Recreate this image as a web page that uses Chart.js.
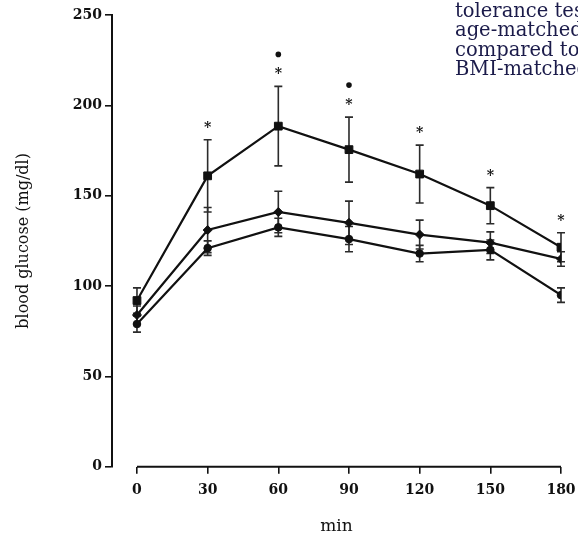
<!DOCTYPE html>
<html>
<head>
<meta charset="utf-8">
<script src="https://cdn.jsdelivr.net/npm/chart.js@4.4.1/dist/chart.umd.min.js"></script>
<style>
  html, body { margin: 0; padding: 0; background: #fff; overflow: hidden; }
  #wrap { position: relative; width: 578px; height: 537px; overflow: hidden; }
  #caption {
    position: absolute; left: 455px; top: 1px;
    font: 19.5px 'DejaVu Serif', serif; line-height: 19.3px;
    color: #1b1b4a; white-space: nowrap;
  }
</style>
</head>
<body>
<div id="wrap">
  <canvas id="ogtt" width="578" height="537"></canvas>
  <div id="caption">tolerance test<br>age-matched<br>compared to<br>BMI-matched</div>
</div>
<script>
// sampling times of the glucose tolerance test (min)
const minutes = [0, 30, 60, 90, 120, 150, 180];

// mean blood glucose (mg/dl) and SE per group
const groupA = [92, 161, 188.5, 175.5, 162, 144.5, 121.5];
const groupAErr = [7, 20, 22, 18, 16, 10, 8];
const groupB = [84, 131, 141, 135, 128.5, 124, 115];
const groupBErr = [5, 12.5, 11.5, 12, 8, 6, 4];
const groupC = [79, 121, 132.5, 126, 118, 120, 95];
const groupCErr = [4.5, 4, 5, 7, 4.5, 5.5, 4];

// significance marks above group A
const starMarks = [false, true, true, true, true, true, true];
const dotMarks = [false, false, true, true, false, false, false];

const yTicks = [0, 50, 100, 150, 200, 250];

const INK = '#111';
const SERIF = "'DejaVu Serif', serif";

const pts = vals => minutes.map((m, i) => ({ x: m, y: vals[i] }));

function series(vals, err, style, radius) {
    return {
        data: pts(vals),
        err: err,
        borderColor: INK,
        backgroundColor: INK,
        borderWidth: 2.2,
        tension: 0,
        pointStyle: style,
        pointRadius: radius,
        pointBorderWidth: 1,
        pointBackgroundColor: INK,
        pointBorderColor: INK
    };
}

const errorBars = {
    id: 'errorBars',
    beforeDatasetsDraw(chart) {
        const { ctx, scales: { x, y } } = chart;
        ctx.save();
        ctx.strokeStyle = '#2b2b2b';
        ctx.lineWidth = 1.6;
        chart.data.datasets.forEach(ds => {
            ds.data.forEach((p, i) => {
                const px = x.getPixelForValue(p.x);
                const hi = y.getPixelForValue(p.y + ds.err[i]);
                const lo = y.getPixelForValue(p.y - ds.err[i]);
                ctx.beginPath();
                ctx.moveTo(px, hi); ctx.lineTo(px, lo);
                ctx.moveTo(px - 4, hi); ctx.lineTo(px + 4, hi);
                ctx.moveTo(px - 4, lo); ctx.lineTo(px + 4, lo);
                ctx.stroke();
            });
        });
        ctx.restore();
    },
    afterDatasetsDraw(chart) {
        const { ctx, scales: { x, y } } = chart;
        ctx.save();
        // x axis line only spans the sampled range
        ctx.strokeStyle = INK;
        ctx.lineWidth = 2;
        const base = chart.chartArea.bottom;
        ctx.beginPath();
        ctx.moveTo(x.getPixelForValue(minutes[0]), base);
        ctx.lineTo(x.getPixelForValue(minutes[minutes.length - 1]), base);
        ctx.stroke();

        ctx.fillStyle = INK;
        ctx.textAlign = 'center';
        ctx.textBaseline = 'alphabetic';
        ctx.font = 'bold 14px ' + SERIF;
        minutes.forEach((m, i) => {
            const px = x.getPixelForValue(m);
            const top = y.getPixelForValue(groupA[i] + groupAErr[i]);
            if (starMarks[i]) ctx.fillText('*', px, top - 16 + 8);
            if (dotMarks[i]) {
                ctx.beginPath();
                ctx.arc(px, top - 32, 2.8, 0, Math.PI * 2);
                ctx.fill();
            }
        });
        ctx.restore();
    }
};

new Chart(document.getElementById('ogtt'), {
    type: 'line',
    data: {
        datasets: [
            series(groupA, groupAErr, 'rect', 5.5),
            series(groupB, groupBErr, 'rectRot', 4.5),
            series(groupC, groupCErr, 'circle', 3.8)
        ]
    },
    options: {
        responsive: false,
        animation: false,
        layout: { padding: { top: 15, right: 17, bottom: 0, left: 0 } },
        plugins: { legend: { display: false }, tooltip: { enabled: false } },
        scales: {
            x: {
                type: 'linear',
                min: -10.6,
                max: 180,
                afterBuildTicks: s => { s.ticks = minutes.map(v => ({ value: v })); },
                // the last label may run off the right edge
                afterFit: s => { s.paddingRight = 0; s.paddingLeft = 0; },
                grid: { drawOnChartArea: false, drawTicks: true, tickLength: 7, color: INK, lineWidth: 1.6 },
                border: { display: false },
                ticks: { color: INK, padding: 8, maxRotation: 0, font: { family: SERIF, size: 14, weight: 'bold' } },
                title: {
                    display: true, text: 'min', color: INK,
                    font: { family: SERIF, size: 17 },
                    padding: { top: 10, bottom: 0 }
                }
            },
            y: {
                min: 0,
                max: 250,
                afterBuildTicks: s => { s.ticks = yTicks.map(v => ({ value: v })); },
                afterFit: s => { s.width = 112; },
                grid: { drawOnChartArea: false, drawTicks: true, tickLength: 7, color: INK, lineWidth: 1.6 },
                border: { display: true, color: INK, width: 2 },
                ticks: { color: INK, padding: 3, font: { family: SERIF, size: 14, weight: 'bold' } },
                title: {
                    display: true, text: 'blood glucose (mg/dl)', color: INK,
                    font: { family: SERIF, size: 16 },
                    padding: { top: 14, bottom: 0 }
                }
            }
        }
    },
    plugins: [errorBars]
});
</script>
</body>
</html>
